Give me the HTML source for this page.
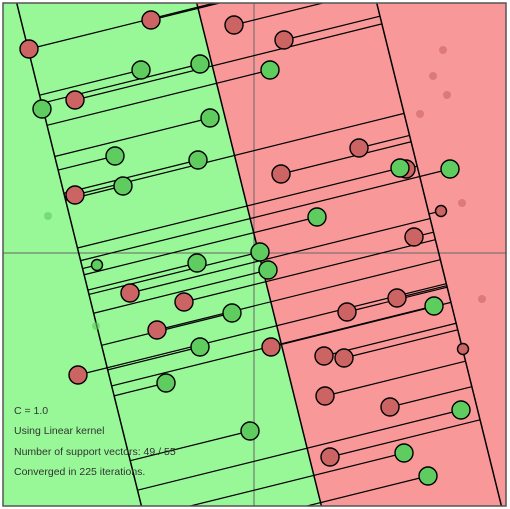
<!DOCTYPE html>
<html><head><meta charset="utf-8"><style>
html,body{margin:0;padding:0;background:#fff;width:510px;height:509px;overflow:hidden;}
svg{display:block;font-family:"Liberation Sans",Arial,sans-serif;}
</style></head><body>
<svg id="chart" width="510" height="509" viewBox="0 0 510 509" xmlns="http://www.w3.org/2000/svg">
<defs><clipPath id="clip"><rect x="3" y="3" width="503" height="503"/></clipPath></defs>
<g id="plot" clip-path="url(#clip)"></g>
<rect x="3" y="3" width="503" height="503" fill="none" stroke="#555" stroke-width="1.5"/>
<g font-size="10.5" fill="#333">
<text x="14" y="414">C = 1.0</text>
<text x="14" y="434">Using Linear kernel</text>
<text x="14" y="455">Number of support vectors: 49 / 55</text>
<text x="14" y="475">Converged in 225 iterations.</text>
</g>
</svg>
<script>
const redX=[-103,-20,30,-225,-179,-179,105,27,152,160,-124,-70,-97,93,143,17,70,90,-176,71,136,76,187,209,189,179,193,166,208,228];
const redY=[233,228,213,204,153,58,105,79,84,16,-40,-49,-77,-59,-45,-94,-103,-105,-122,-143,-154,-204,42,-96,203,177,158,139,50,-46];
const redKind=[2,2,2,2,2,2,2,2,2,2,2,2,2,2,2,2,2,2,2,2,2,2,1,1,0,0,0,0,0,0];
const greenX=[-113,-54,16,-212,-44,-139,-56,-131,146,196,63,6,-57,14,-157,-22,180,-54,-88,-4,207,150,174,-206,-158];
const greenY=[183,189,183,144,135,97,93,67,85,84,36,1,-10,-17,-12,-60,-53,-94,-130,-178,-157,-200,-223,37,-73];
const greenKind=[2,2,2,2,2,2,2,2,2,2,2,2,2,2,1,2,2,2,2,2,2,2,2,0,0];
const weights=[1,0.248];
const bias=-4.7;
const marginF=180;
const X=v=>254+v, Y=v=>253-v;
const NS="http://www.w3.org/2000/svg";
const g=document.getElementById('plot');
function mk(t,a){const e=document.createElementNS(NS,t);for(const k in a)e.setAttribute(k,a[k]);g.appendChild(e);return e;}
const bx=(f,y)=>(f-bias-weights[1]*y)/weights[0];
const yT=250,yB=-253;
let e=mk('polygon',{points:`${X(bx(0,yT))},${Y(yT)} ${X(bx(0,yB))},${Y(yB)} 3,${Y(yB)} 3,${Y(yT)}`,fill:'#98f898'});


e=mk('polygon',{points:`${X(bx(0,yT))},${Y(yT)} ${X(bx(0,yB))},${Y(yB)} 506,${Y(yB)} 506,${Y(yT)}`,fill:'#f99898'});


e=mk('line',{x1:X(0),y1:3,x2:X(0),y2:506,stroke:'#666','stroke-width':1});


e=mk('line',{x1:3,y1:Y(0),x2:506,y2:Y(0),stroke:'#666','stroke-width':1});


[[-marginF,'margin-green'],[0,'decision-boundary'],[marginF,'margin-red']].forEach(([f,n])=>{
 const l=mk('line',{x1:X(bx(f,yT)),y1:Y(yT),x2:X(bx(f,yB)),y2:Y(yB),stroke:'#000','stroke-width':1.5});
 
 
});
const nn=weights[0]*weights[0]+weights[1]*weights[1];
function lines(xs,ys,kinds,target,cls){
 xs.forEach((x,i)=>{
  if(kinds[i]===0)return;
  const y=ys[i];const f=weights[0]*x+weights[1]*y+bias;let t=(target-f)/nn;
  let ey=y+t*weights[1];
  if(ey>250){t=(250-y)/weights[1];}
  if(ey<-253){t=(-253-y)/weights[1];}
  const l=mk('line',{x1:X(x),y1:Y(y),x2:X(x+t*weights[0]),y2:Y(y+t*weights[1]),stroke:'#000','stroke-width':1.2});
  
  
 });
}
lines(redX,redY,redKind,marginF,'red');
lines(greenX,greenY,greenKind,-marginF,'green');
function pts(xs,ys,kinds,fill,cls){
 xs.forEach((x,i)=>{
  const k=kinds[i];
  const c=mk('circle',{cx:X(x),cy:Y(ys[i]),r:k===2?9:(k===1?5.5:4),fill:fill});
  if(k===0){c.setAttribute('opacity','0.6');}
  else{c.setAttribute('stroke','#000');c.setAttribute('stroke-width','1.4');}
  
  
 });
}
pts(redX,redY,redKind,'#cc6464','red');
pts(greenX,greenY,greenKind,'#5fcc5f','green');
</script>
</body></html>
